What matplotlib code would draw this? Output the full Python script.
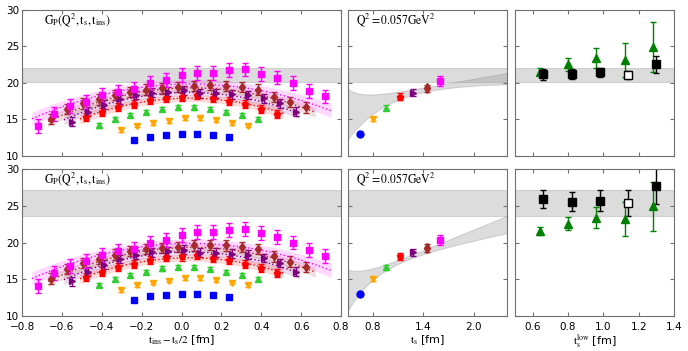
import numpy as np
import matplotlib
matplotlib.use("Agg")
import matplotlib.pyplot as plt

plt.rcParams['mathtext.fontset'] = 'stix'
plt.rcParams['font.size'] = 7

# source-sink separations [fm] and colours/markers for each
ts = [0.64, 0.80, 0.96, 1.12, 1.28, 1.44, 1.60]
colors = ['#0000ff', '#ffa500', '#32cd32', '#ff0000', '#800080', '#a52a2a', '#ff00ff']
markers_left = ['s', 'v', '^', 'p', '>', 'd', 's']
markers_mid = ['o', 'v', '^', 'p', '>', 'd', 's']
shift = [0.0, 0.015, -0.016, 0.0, 0.012, -0.016, 0.0]  # small horizontal offsets

# ratio data vs t_ins - t_s/2 (one list per t_s)
g_blue = [12.16, 12.66, 12.89, 12.98, 12.98, 12.89, 12.61]
g_orange = [13.53, 14.17, 14.54, 14.82, 15.14, 15.14, 14.9, 14.54, 14.17]
g_green = [14.2, 15.05, 15.6, 16.0, 16.47, 16.65, 16.65, 16.4, 16.0, 15.6, 15.05]
g_red = [15.3, 16.05, 16.65, 17.1, 17.65, 17.98, 18.1, 18.35, 17.9, 17.57, 17.1, 16.5, 15.8]
g_purple = [14.7, 16.05, 17.0, 17.75, 18.35, 18.67, 18.8, 19.0, 18.6, 18.6, 18.45, 18.35,
            17.9, 17.2, 16.05]
g_brown = [15.1, 16.4, 17.2, 17.75, 18.35, 18.8, 19.1, 19.25, 19.4, 19.6, 19.7, 19.6, 19.4,
           19.1, 18.1, 17.4, 16.65]
g_magenta = [14.1, 15.8, 16.85, 17.45, 18.35, 18.8, 19.15, 19.95, 20.4, 21.05, 21.4, 21.4,
             21.75, 21.85, 21.25, 20.75, 20.0, 18.95, 18.15]
series = [g_blue, g_orange, g_green, g_red, g_purple, g_brown, g_magenta]
series_err = [0.2, 0.25, 0.3, 0.55, 0.6, 0.7, 0.95]

# fit curves in left panel: value at left end, centre, right end and band half width
fit_idx = [3, 4, 5, 6]
fit_left = [15.37, 15.3, 15.1, 15.45]
fit_mid = [17.9, 18.7, 19.3, 19.85]
fit_right = [16.1, 16.1, 16.3, 16.5]
fit_hw = [0.45, 0.45, 0.45, 0.6]

# midpoint values vs t_s
mid_val = [13.0, 15.1, 16.6, 18.1, 18.65, 19.25, 20.3]
mid_err = [0.15, 0.3, 0.35, 0.5, 0.5, 0.5, 0.7]

# extrapolation band parameters (top: two-state fit, bottom: summation)
top_lo = (20.0, 0.0, -20.9, 2.0)
top_hi = (16.57, 2.0, 32.0, 6.0)
bot_lo = (15.3, 2.5, -26.0, 3.0)
bot_hi = (12.42, 4.67, 18.7, 5.0)

# final results band
band_top = (20.15, 22.0)
band_bot = (23.55, 27.2)

# right panels
tlow_green = [0.64, 0.80, 0.96, 1.12, 1.28]
green_val = [21.55, 22.55, 23.4, 23.15, 24.9]
green_err = [0.5, 0.9, 1.4, 2.3, 3.4]
tlow_black = [0.66, 0.82, 0.98, 1.14, 1.30]
black_top = [21.2, 21.2, 21.45, 21.1, 22.55]
black_top_err = [0.75, 0.7, 0.6, 0.6, 1.2]
black_bot = [25.9, 25.55, 25.7, 25.35, 27.7]
black_bot_err = [1.25, 1.3, 1.4, 1.8, 2.4]
open_point = 3

a = 0.08  # lattice spacing [fm]


def edge(t, p):
    return p[0] + p[1] * t + p[2] * np.exp(-p[3] * t)


def style(ax):
    for s in ax.spines.values():
        s.set_color('#707070')
    ax.tick_params(direction='in', top=True, right=True, length=3, color='#707070',
                   labelsize=7.5)
    ax.tick_params(axis='x', pad=4)
    ax.tick_params(axis='y', pad=2)
    ax.set_ylim(10, 30)
    ax.set_yticks([10, 15, 20, 25, 30])


fig = plt.figure(figsize=(6.88, 3.51), dpi=100)
rows = [(0.5556, 0.416), (0.0997, 0.4188)]
bands = [band_top, band_bot]
mids = [(top_lo, top_hi), (bot_lo, bot_hi)]
blacks = [(black_top, black_top_err), (black_bot, black_bot_err)]

for r, (b, h) in enumerate(rows):
    axL = fig.add_axes([0.032, b, 0.4637, h])
    axM = fig.add_axes([0.5058, b, 0.2311, h])
    axR = fig.add_axes([0.7486, b, 0.2311, h])
    for ax in (axL, axM, axR):
        style(ax)
        ax.axhspan(bands[r][0], bands[r][1], color='0.55', alpha=0.3, lw=0.8)

    # left: ratio vs insertion time
    for k in range(7):
        n = len(series[k])
        x = np.arange(1, n + 1) * a - ts[k] / 2 + shift[k]
        axL.errorbar(x, series[k], yerr=series_err[k], fmt=markers_left[k], color=colors[k],
                     ms=4.5, capsize=2.3, elinewidth=1, mew=1)
    for j, k in enumerate(fit_idx):
        half = ts[k] / 2 - a
        coef = np.polyfit([-half, 0, half], [fit_left[j], fit_mid[j], fit_right[j]], 2)
        xx = np.linspace(-(ts[k] / 2 - 0.05), ts[k] / 2 - 0.05, 100)
        yy = np.polyval(coef, xx)
        hw = fit_hw[j] * (1 + 0.5 * (xx / half) ** 2)
        axL.fill_between(xx, yy - hw, yy + hw, color=colors[k], alpha=0.15, lw=0)
        axL.plot(xx, yy, ':', color=colors[k], lw=1)
    axL.set_xlim(-0.8, 0.8)
    axL.set_xticks(np.arange(-0.8, 0.81, 0.2))
    axL.text(0.07, 0.9, r'$\mathrm{G_P(Q^2, t_s, t_{ins})}$', transform=axL.transAxes,
             fontsize=8.5)

    # middle: midpoint vs t_s with extrapolation band
    tt = np.linspace(0.5, 2.4, 200)
    axM.fill_between(tt, edge(tt, mids[r][0]), edge(tt, mids[r][1]), color='0.55',
                     alpha=0.3, lw=0.8)
    for k in range(7):
        axM.errorbar(ts[k], mid_val[k], yerr=mid_err[k], fmt=markers_mid[k], color=colors[k],
                     ms=5, capsize=2.3, elinewidth=1, mew=1)
    axM.set_xlim(0.5, 2.4)
    axM.set_xticks([0.8, 1.4, 2.0])
    axM.set_yticklabels([])
    axM.text(0.05, 0.9, r'$\mathrm{Q^2 = 0.057GeV^2}$', transform=axM.transAxes,
             fontsize=8.5)

    # right: summation results vs t_s^low
    axR.errorbar(tlow_green, green_val, yerr=green_err, fmt='^', color='green', ms=5.5,
                 capsize=2.3, elinewidth=1)
    bv, be = blacks[r]
    for i in range(len(bv)):
        face = 'white' if i == open_point else 'black'
        axR.errorbar(tlow_black[i], bv[i], yerr=be[i], fmt='s', color='black', mfc=face,
                     mec='black', ms=6, capsize=2.3, elinewidth=1)
    axR.set_xlim(0.5, 1.4)
    axR.set_xticks([0.6, 0.8, 1.0, 1.2, 1.4])
    axR.set_yticklabels([])

    if r == 0:
        for ax in (axL, axM, axR):
            ax.set_xticklabels([])
    else:
        axL.set_xlabel(r'$\mathrm{t_{ins}-t_s/2}$ [fm]', fontsize=8, labelpad=1)
        axM.set_xlabel(r'$\mathrm{t_s}$ [fm]', fontsize=8, labelpad=1)
        axR.set_xlabel(r'$\mathrm{t_s^{low}}$ [fm]', fontsize=8, labelpad=1)

fig.savefig('out.png', dpi=100)
